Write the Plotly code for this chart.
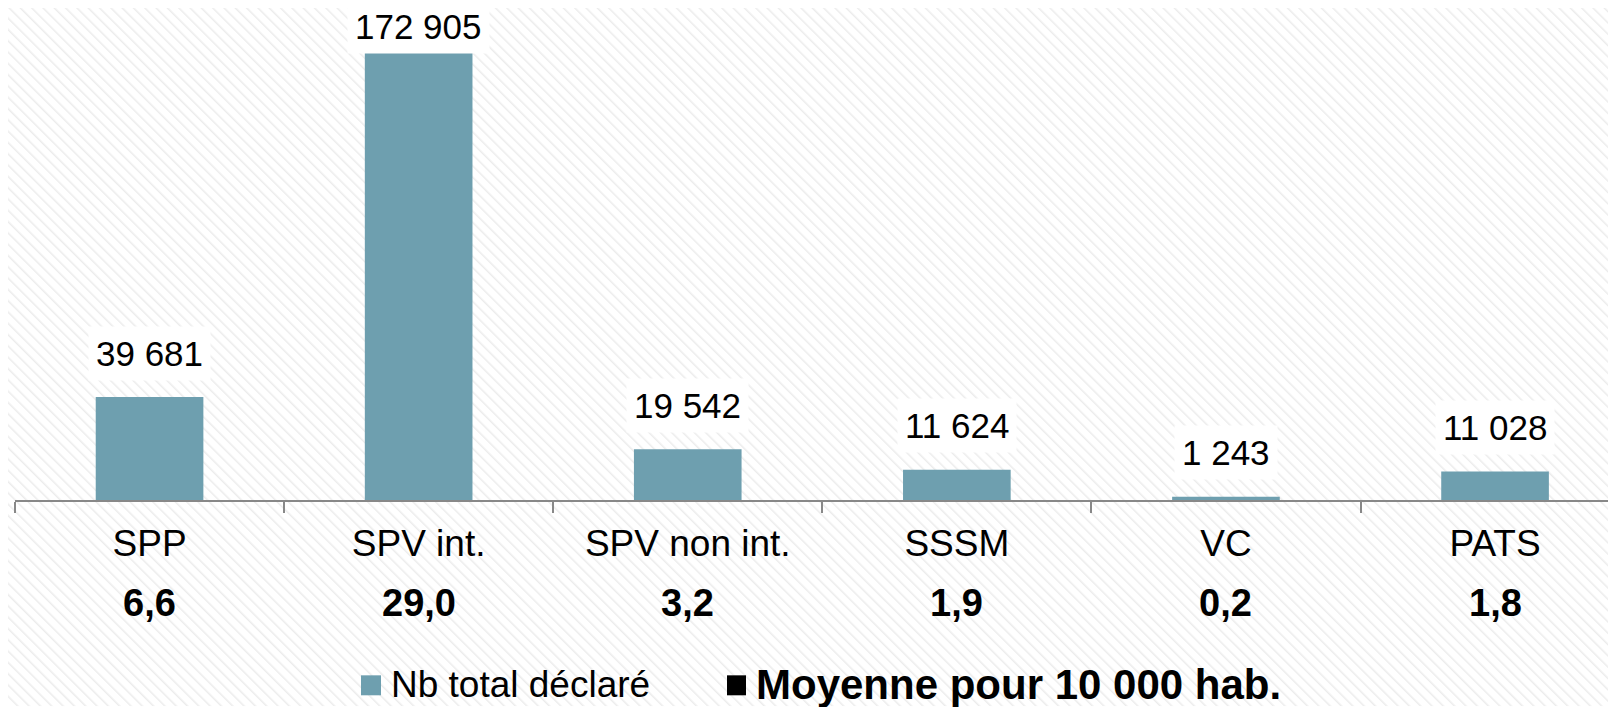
import base64
import plotly.graph_objects as go

categories = ["SPP", "SPV int.", "SPV non int.", "SSSM", "VC", "PATS"]
totals = [39681, 172905, 19542, 11624, 1243, 11028]
total_labels = ["39 681", "172 905", "19 542", "11 624", "1 243", "11 028"]
per_10000 = ["6,6", "29,0", "3,2", "1,9", "0,2", "1,8"]
series_names = ["Nb total déclaré", "Moyenne pour 10 000 hab."]

OFF = 8  # page body margin
W, H = 1616 - OFF, 707 - OFF
BASE = 500.5 - OFF           # axis position in figure pixels
ML, MR, MT, MB = 15 - OFF, 0, 0, H - BASE
PW, PH = W - ML - MR, H - MT - MB
PX_PER_UNIT = 449 / 172905
YMAX = PH / PX_PER_UNIT
BAR_COLOR = "#6E9FAF"
FONT = "Liberation Sans, Arial, sans-serif"


def px_x(px):  # target-image pixel -> paper x
    return (px - OFF - ML) / PW


def px_y(py):  # target-image pixel -> paper y
    return (PH - (py - OFF - MT)) / PH


# striped background as an inline SVG pattern
svg = (
    f'<svg xmlns="http://www.w3.org/2000/svg" width="{W}" height="{H}">'
    '<defs><pattern id="p" width="8" height="8" patternUnits="userSpaceOnUse" '
    'patternTransform="rotate(-45)">'
    '<rect width="8" height="8" fill="#ffffff"/>'
    '<line x1="0" y1="0" x2="0" y2="8" stroke="#ececec" stroke-width="3"/>'
    '</pattern></defs><rect width="100%" height="100%" fill="url(#p)"/></svg>'
)
bg_uri = "data:image/svg+xml;base64," + base64.b64encode(svg.encode()).decode()

fig = go.Figure()
fig.add_trace(go.Bar(
    x=categories, y=totals, width=0.4, name=series_names[0],
    marker=dict(color=BAR_COLOR, line=dict(width=0)),
    showlegend=False, hoverinfo="x+y",
))

annotations = []
for c, v, lab in zip(categories, totals, total_labels):
    top_px = PH * (1 - v / YMAX)
    shift = min(44, top_px - (27 - OFF))
    annotations.append(dict(
        x=c, y=v, xref="x", yref="y", text=lab, showarrow=False,
        yanchor="middle", yshift=shift, bgcolor="#ffffff", borderpad=7,
        font=dict(family=FONT, size=35, color="#000000"),
    ))
for c, m in zip(categories, per_10000):
    annotations.append(dict(
        x=c, y=px_y(604), xref="x", yref="paper", text=m, showarrow=False,
        yanchor="middle", font=dict(family=FONT, size=38, color="#000000", weight="bold"),
    ))

# manual legend
legend_items = [
    (series_names[0], BAR_COLOR, 361, 381, dict(family=FONT, size=37, color="#000000")),
    (series_names[1], "#000000", 727, 746, dict(family=FONT, size=42, color="#000000", weight="bold")),
]
shapes = []
for name, col, x0, x1, f in legend_items:
    shapes.append(dict(type="rect", xref="paper", yref="paper",
                       x0=px_x(x0), x1=px_x(x1), y0=px_y(696), y1=px_y(676),
                       fillcolor=col, line=dict(width=0)))
    annotations.append(dict(x=px_x(x1 + 8), y=px_y(685), xref="paper", yref="paper",
                            text=name, showarrow=False, xanchor="left", yanchor="middle",
                            font=f))

fig.update_layout(
    width=W, height=H,
    margin=dict(l=ML, r=MR, t=MT, b=MB, pad=0, autoexpand=False),
    paper_bgcolor="#ffffff", plot_bgcolor="rgba(0,0,0,0)",
    images=[dict(source=bg_uri, xref="paper", yref="paper", x=-ML / PW, y=1 + MT / PH,
                 sizex=W / PW, sizey=H / PH, xanchor="left", yanchor="top",
                 sizing="stretch", layer="below")],
    xaxis=dict(
        range=[-0.5, -0.5 + PW / 269.1], showgrid=False, zeroline=False,
        showline=True, linecolor="#888888", linewidth=2,
        ticks="outside", tickson="boundaries", ticklen=11, tickwidth=2, tickcolor="#888888",
        tickfont=dict(family=FONT, size=37, color="#000000"), ticklabelstandoff=10,
    ),
    yaxis=dict(range=[0, YMAX], visible=False, showgrid=False, zeroline=False),
    showlegend=False,
    shapes=shapes,
    annotations=annotations,
    bargap=0.6,
)

fig.write_html("out.html")
